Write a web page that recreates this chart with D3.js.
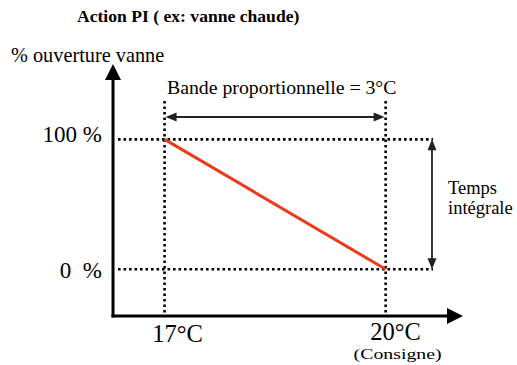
<!DOCTYPE html>
<html>
<head>
<meta charset="utf-8">
<script src="https://cdn.jsdelivr.net/npm/d3@7/dist/d3.min.js"></script>
<style>
  html, body { margin: 0; padding: 0; background: #fff; }
  svg { display: block; font-family: "Liberation Serif", "Times New Roman", serif; }
</style>
</head>
<body>
<svg id="chart" width="517" height="365"></svg>
<script>
// Temperatures (°C) and valve opening (%) defining the proportional band
const temperatures = [17, 20];
const opening = [100, 0];
const tempLabels = ["17°C", "20°C"];
const openingLabels = ["100 %", "0  %"];
const setpointNote = "(Consigne)";

const svg = d3.select("#chart");

// Scales: axis extents expressed in data units
const xMin = 16.3, xMax = 21.05, yMin = -36, yMax = 158;
const x = d3.scaleLinear().domain([xMin, xMax]).range([113, 463]);
const y = d3.scaleLinear().domain([yMin, yMax]).range([316, 64]);

// Title
svg.append("text")
  .attr("x", 77).attr("y", 22)
  .attr("font-weight", "bold")
  .attr("font-size", 17.6)
  .text("Action PI ( ex: vanne chaude)");

// Y axis title
svg.append("text")
  .attr("x", 11).attr("y", 62)
  .attr("font-size", 20.3)
  .text("% ouverture vanne");

// Reference dotted lines
const dotted = svg.append("g")
  .attr("stroke", "#000")
  .attr("stroke-width", 2.6)
  .attr("stroke-dasharray", "2.6,2.9")
  .attr("fill", "none");

opening.forEach(v => {
  dotted.append("line")
    .attr("x1", x(xMin) + 5).attr("x2", 433)
    .attr("y1", y(v)).attr("y2", y(v));
});
temperatures.forEach(t => {
  dotted.append("line")
    .attr("x1", x(t)).attr("x2", x(t))
    .attr("y1", 101).attr("y2", y(yMin) - 2);
});

// Axes with arrowheads
const axes = svg.append("g");
axes.append("line")
  .attr("x1", x(xMin)).attr("x2", x(xMin))
  .attr("y1", y(yMin) + 1.5).attr("y2", 78)
  .attr("stroke", "#000").attr("stroke-width", 3);
axes.append("line")
  .attr("x1", x(xMin) - 1.5).attr("x2", 449)
  .attr("y1", y(yMin)).attr("y2", y(yMin))
  .attr("stroke", "#000").attr("stroke-width", 3);
axes.append("path")
  .attr("d", `M${x(xMin)},${y(yMax)} L${x(xMin) - 8},80 L${x(xMin) + 8},80 Z`)
  .attr("fill", "#000");
axes.append("path")
  .attr("d", `M${x(xMax)},${y(yMin)} L447,${y(yMin) - 8} L447,${y(yMin) + 8} Z`)
  .attr("fill", "#000");

// Control response line
svg.append("path")
  .datum(temperatures.map((t, i) => [t, opening[i]]))
  .attr("d", d3.line().x(d => x(d[0])).y(d => y(d[1])))
  .attr("stroke", "#ee3a1c")
  .attr("stroke-width", 3)
  .attr("fill", "none");

// Double-headed arrows
function doubleArrow(x1, y1, x2, y2) {
  const g = svg.append("g");
  const ang = Math.atan2(y2 - y1, x2 - x1);
  const L = 11, W = 4.5;
  const head = (px, py, a) => {
    const bx = px - L * Math.cos(a), by = py - L * Math.sin(a);
    const nx = -Math.sin(a) * W, ny = Math.cos(a) * W;
    return `M${px},${py} L${bx + nx},${by + ny} L${bx - nx},${by - ny} Z`;
  };
  g.append("line")
    .attr("x1", x1 + 6 * Math.cos(ang)).attr("y1", y1 + 6 * Math.sin(ang))
    .attr("x2", x2 - 6 * Math.cos(ang)).attr("y2", y2 - 6 * Math.sin(ang))
    .attr("stroke", "#222").attr("stroke-width", 1.8);
  g.append("path").attr("d", head(x2, y2, ang)).attr("fill", "#222");
  g.append("path").attr("d", head(x1, y1, ang + Math.PI)).attr("fill", "#222");
}
doubleArrow(x(temperatures[0]) + 1, 117, x(temperatures[1]) - 1, 117);
doubleArrow(432, y(opening[0]), 432, y(opening[1]));

// Band label
svg.append("text")
  .attr("x", 167).attr("y", 94)
  .attr("font-size", 19.8)
  .text("Bande proportionnelle = 3°C");

// Integral time label
svg.append("text").attr("x", 448).attr("y", 194).attr("font-size", 18.5).text("Temps");
svg.append("text").attr("x", 448).attr("y", 213.5).attr("font-size", 18.5).text("intégrale");

// Opening tick labels (baseline offsets below each reference line)
const openingDy = [3, 8.5];
openingLabels.forEach((lab, i) => {
  svg.append("text")
    .attr("x", 102).attr("y", y(opening[i]) + openingDy[i])
    .attr("text-anchor", "end")
    .attr("font-size", 23)
    .attr("xml:space", "preserve")
    .style("white-space", "pre")
    .text(lab);
});

// Temperature tick labels
const tempDx = [13, 10];
const tempY = [341.5, 340];
tempLabels.forEach((lab, i) => {
  svg.append("text")
    .attr("x", x(temperatures[i]) + tempDx[i]).attr("y", tempY[i])
    .attr("text-anchor", "middle")
    .attr("font-size", 24.5)
    .text(lab);
});
svg.append("text")
  .attr("x", x(temperatures[1]) + 12).attr("y", 359)
  .attr("text-anchor", "middle")
  .attr("font-size", 15)
  .attr("textLength", 88)
  .attr("lengthAdjust", "spacingAndGlyphs")
  .text(setpointNote);
</script>
</body>
</html>
